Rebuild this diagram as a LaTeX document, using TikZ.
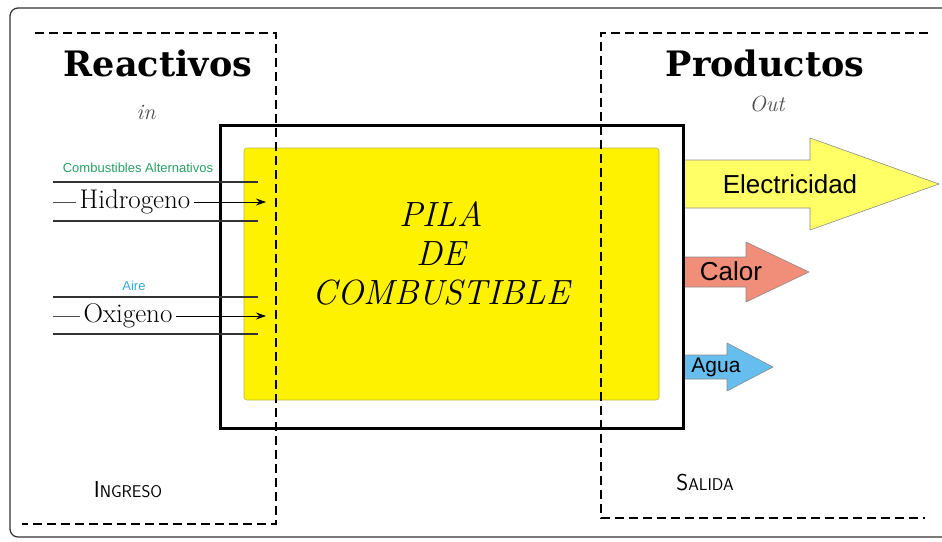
\documentclass[tikz,border=0pt]{standalone}
\usepackage{fontspec}
\newfontfamily\titlefont{DejaVu Serif}
\newfontfamily\arialfont{Liberation Sans}
\usepackage{tikz}
\usetikzlibrary{arrows.meta}
\definecolor{cellyellow}{RGB}{255,242,0}
\definecolor{elecyellow}{RGB}{255,255,102}
\definecolor{calorred}{RGB}{240,142,122}
\definecolor{aguablue}{RGB}{102,190,238}
\definecolor{fuelgreen}{RGB}{40,160,100}
\definecolor{airblue}{RGB}{50,170,215}
\newcommand{\fsz}[1]{\fontsize{#1}{#1}\selectfont}
\tikzset{
    frame/.style={draw=black!80, line width=1.2pt, rounded corners=8pt},
    zone/.style={draw, line width=2.2pt, dash pattern=on 9pt off 5pt},
    cell/.style={draw, line width=3pt},
    stack/.style={fill=cellyellow, draw=olive!60, line width=0.6pt, rounded corners=3pt},
    rail/.style={draw=black!80, line width=2pt},
    feed/.style={draw=black!70, line width=0.8pt},
    feedtip/.style={feed, draw=black, -{Stealth[length=10pt,width=7pt]}},
    outarrow/.style={draw=black!45, line width=0.6pt},
    gas/.style={font=\fsz{27}, inner sep=3pt},
    tag/.style={font=\arialfont\fsz{13}},
    outlabel/.style={font=\arialfont\fsz{26}},
    heading/.style={font=\titlefont\bfseries\fsz{35}},
    note/.style={font=\itshape\fsz{22}, text=black!70},
    zonelabel/.style={font=\sffamily\fsz{23}}
}

\begin{document}
\begin{tikzpicture}[x=1pt,y=-1pt]
    \useasboundingbox (0,0) rectangle (942,541);
    \draw[frame] (10,8) rectangle (950,537);

    \draw[outarrow, fill=elecyellow] (683,160) -- (810,160) -- (810,138) -- (939,184)
        -- (810,230) -- (810,208) -- (683,208) -- cycle;
    \draw[outarrow, fill=calorred] (683,257) -- (746,257) -- (746,242) -- (809,272)
        -- (746,302) -- (746,287) -- (683,287) -- cycle;
    \draw[outarrow, fill=aguablue] (683,355) -- (727,355) -- (727,343) -- (773,367)
        -- (727,391) -- (727,379) -- (683,379) -- cycle;
    \node[outlabel] (elec) at (790,184) {Electricidad};
    \node[outlabel] (calor) at (731,271) {Calor};
    \node[outlabel, font=\arialfont\fsz{21}] (agua) at (716,367) {Agua};

    \path[stack] (244,148) rectangle (659,400);
    \draw[cell] (220,125) rectangle (683,428);
    \node[align=center, font=\itshape\fontsize{35}{39}\selectfont] (pila) at (441,253)
        {PILA\\DE\\COMBUSTIBLE};

    \node[heading] (reac) at (158,63) {Reactivos};
    \node[heading] (prod) at (765,63) {Productos};
    \node[note] (in) at (146,112) {in};
    \node[note] (out) at (767,104) {Out};

    \node[tag, text=fuelgreen] (fuel) at (138,168) {Combustibles Alternativos};
    \draw[rail] (53,182) -- (258,182) (53,221) -- (258,221);
    \coordinate (h0) at (53,202);
    \coordinate (h1) at (266,202);
    \node[gas] (hidro) at (135,202) {Hidrogeno};
    \draw[feed] (h0) -- (hidro);
    \draw[feedtip] (hidro) -- (h1);

    \node[tag, text=airblue] (aire) at (134,286) {Aire};
    \draw[rail] (53,297) -- (258,297) (53,334) -- (258,334);
    \coordinate (o0) at (53,316);
    \coordinate (o1) at (266,316);
    \node[gas] (oxi) at (128,316) {Oxigeno};
    \draw[feed] (o0) -- (oxi);
    \draw[feedtip] (oxi) -- (o1);

    \draw[zone] (35,33) -- (276,33) -- (276,524) -- (22,524);
    \draw[zone] (928,33) -- (601,33) -- (601,518) -- (925,518);
    \node[zonelabel] (ingreso) at (128,490) {I{\fsz{17}NGRESO}};
    \node[zonelabel] (salida) at (705,483) {S{\fsz{17}ALIDA}};
\end{tikzpicture}
\end{document}
